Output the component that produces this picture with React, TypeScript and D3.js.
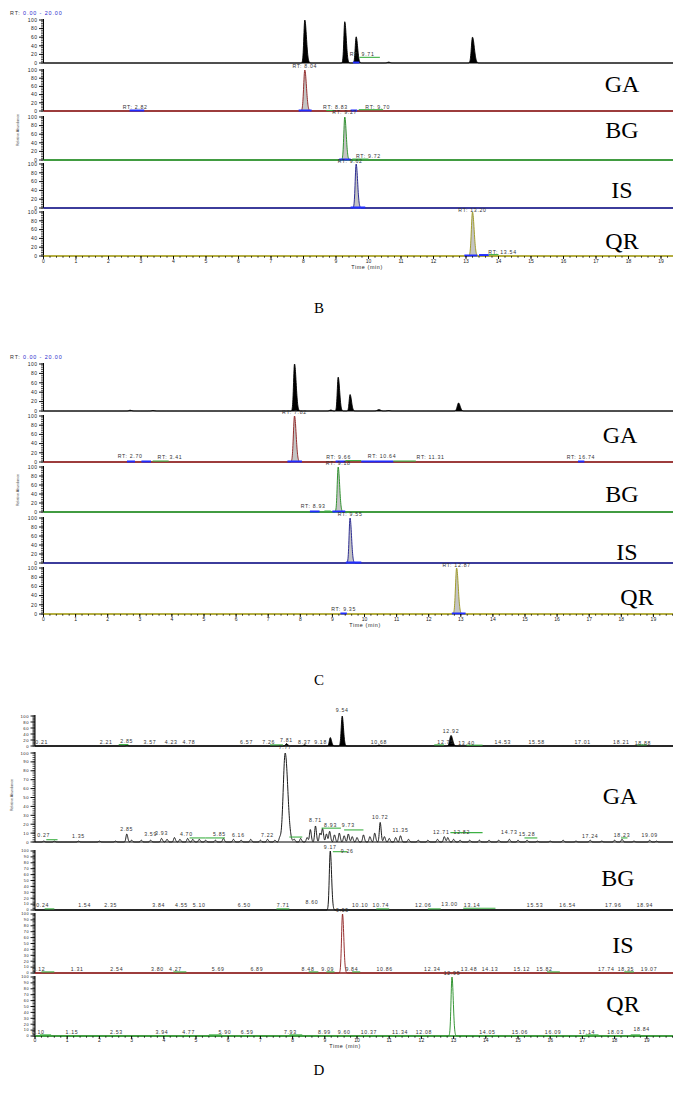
import React from 'react';
import * as d3 from 'd3';

// Peak: [retention time (min), height (% rel. abundance), sigma left, sigma right]
type Peak = [number, number, number, number];
// Label: [retention time, level (% of panel), x shift px]
type Label = [number, number, number?];
// Segment: [rt start, rt end, level (%), colour]
type Seg = [number, number, number, string];

const TIME_TICKS = [0, 1, 2, 3, 4, 5, 6, 7, 8, 9, 10, 11, 12, 13, 14, 15, 16, 17, 18, 19];
const PCT_TICKS_20 = [0, 20, 40, 60, 80, 100];
const PCT_TICKS_10 = [0, 10, 20, 30, 40, 50, 60, 70, 80, 90, 100];
const ANALYTES = ['GA', 'BG', 'IS', 'QR'];

const BLUE = '#1f2cff';
const GREEN = '#3cb043';

// ---------- B: standard solution ----------
const B_TIC: Peak[] = [[8.04, 100, 0.03, 0.05], [9.27, 96, 0.028, 0.045], [9.62, 61, 0.028, 0.045], [10.62, 2, 0.04, 0.04], [13.2, 60, 0.035, 0.055]];
const B_GA: Peak[] = [[8.04, 100, 0.035, 0.05]];
const B_BG: Peak[] = [[9.27, 100, 0.03, 0.045]];
const B_IS: Peak[] = [[9.62, 100, 0.03, 0.045]];
const B_QR: Peak[] = [[13.2, 100, 0.035, 0.05]];

const B_TIC_LABELS: Label[] = [[9.71, 17, 3]];
const B_GA_LABELS: Label[] = [[8.04, 106], [2.82, 6], [8.83, 6, 5], [9.7, 6, 19]];
const B_BG_LABELS: Label[] = [[9.27, 106], [9.72, 5, 9]];
const B_IS_LABELS: Label[] = [[9.62, 103, -6]];
const B_QR_LABELS: Label[] = [[13.2, 101], [13.54, 5, 19]];

const B_TIC_SEGS: Seg[] = [[9.52, 9.72, 0, BLUE], [9.72, 10.35, 12, GREEN]];
const B_GA_SEGS: Seg[] = [[2.65, 3.1, 0, BLUE], [7.85, 8.25, 0, BLUE], [8.7, 8.95, 0, GREEN], [9.45, 9.65, 0, BLUE], [9.7, 10.45, 2, GREEN]];
const B_BG_SEGS: Seg[] = [[9.1, 9.45, 0, BLUE], [9.5, 10.0, 1, GREEN]];
const B_IS_SEGS: Seg[] = [[9.45, 9.9, 0, BLUE]];
const B_QR_SEGS: Seg[] = [[12.95, 13.35, 0, BLUE], [13.4, 13.7, 1, BLUE], [13.7, 14.0, 2, GREEN]];

// ---------- C: spiked sample ----------
const C_TIC: Peak[] = [[2.7, 1.5, 0.04, 0.05], [3.41, 1, 0.04, 0.05], [7.82, 100, 0.03, 0.05], [8.95, 2, 0.04, 0.04], [9.18, 72, 0.028, 0.045], [9.55, 35, 0.028, 0.045], [10.45, 3, 0.05, 0.05], [10.75, 1, 0.05, 0.05], [12.93, 17, 0.04, 0.05]];
const C_GA: Peak[] = [[7.82, 100, 0.035, 0.05]];
const C_BG: Peak[] = [[9.18, 100, 0.03, 0.045]];
const C_IS: Peak[] = [[9.55, 100, 0.03, 0.045]];
const C_QR: Peak[] = [[12.87, 100, 0.035, 0.05]];

const C_GA_LABELS: Label[] = [[7.82, 104], [2.7, 9], [3.41, 7, 17], [9.66, 7, -15], [10.64, 8, -3], [11.31, 7, 24], [16.74, 7]];
const C_BG_LABELS: Label[] = [[9.18, 104], [8.93, 8, -17]];
const C_IS_LABELS: Label[] = [[9.55, 105]];
const C_QR_LABELS: Label[] = [[12.87, 102], [9.35, 6]];

const C_GA_SEGS: Seg[] = [[2.6, 2.85, 0, BLUE], [3.05, 3.35, 0, BLUE], [3.4, 3.9, 1, GREEN], [7.6, 8.05, 0, BLUE], [9.1, 9.4, 0, BLUE], [9.4, 9.9, 2, GREEN], [9.9, 10.3, 0, BLUE], [10.3, 10.9, 0, BLUE], [10.9, 11.6, 1, GREEN], [16.65, 16.85, 0, BLUE]];
const C_BG_SEGS: Seg[] = [[8.3, 8.6, 0, BLUE], [8.75, 8.95, 1, GREEN], [9.0, 9.4, 0, BLUE]];
const C_IS_SEGS: Seg[] = [[9.42, 9.9, 0, BLUE]];
const C_QR_SEGS: Seg[] = [[9.25, 9.45, 0, BLUE], [12.72, 13.15, 0, BLUE]];

// ---------- D: plasma sample ----------
const D_TIC: Peak[] = [[2.85, 2, 0.03, 0.04], [7.81, 8, 0.03, 0.04], [8.37, 4, 0.03, 0.04], [9.17, 28, 0.03, 0.04], [9.54, 100, 0.03, 0.04], [10.68, 3, 0.04, 0.05], [12.92, 35, 0.04, 0.05]];
const D_GA_MAIN: Peak[] = [[7.77, 100, 0.06, 0.08]];
// small chromatographic signals along the GA channel: [rt, height]
const D_GA_NOISE: [number, number][] = [
  [0.27, 1], [0.6, 1], [1.35, 1], [2.0, 1], [2.5, 1], [2.85, 9], [3.0, 2], [3.3, 2], [3.59, 2], [3.93, 4],
  [4.1, 3], [4.33, 5], [4.5, 3], [4.74, 4], [4.9, 3], [5.1, 3], [5.3, 2], [5.6, 2], [5.85, 4], [6.16, 3],
  [6.4, 2], [6.7, 3], [7.0, 2], [7.22, 3], [7.45, 2], [7.6, 4], [8.05, 3], [8.25, 4], [8.45, 5], [8.55, 14],
  [8.71, 18], [8.85, 10], [8.93, 15], [9.05, 9], [9.15, 12], [9.3, 8], [9.45, 10], [9.6, 7], [9.73, 9], [9.85, 6],
  [10.0, 5], [10.2, 8], [10.4, 6], [10.55, 10], [10.72, 22], [10.85, 6], [11.0, 4], [11.2, 5], [11.35, 7], [11.6, 3],
  [11.9, 2], [12.2, 2], [12.5, 3], [12.71, 6], [12.82, 5], [13.0, 3], [13.2, 2], [13.5, 2], [13.8, 2], [14.1, 2],
  [14.4, 2], [14.73, 3], [15.0, 2], [15.28, 2], [15.6, 1], [16.0, 1], [16.4, 2], [16.8, 1], [17.24, 2], [17.6, 1],
  [18.0, 2], [18.23, 3], [18.6, 1], [19.09, 2], [19.3, 1],
];
const D_BG: Peak[] = [[9.17, 100, 0.03, 0.04]];
const D_IS: Peak[] = [[9.55, 100, 0.03, 0.04]];
const D_QR: Peak[] = [[12.95, 100, 0.03, 0.04]];

const D_TIC_LABELS: Label[] = [[0.21, 7], [2.21, 7], [2.85, 9], [3.57, 7], [4.23, 7], [4.78, 7], [6.57, 7], [7.26, 7], [7.81, 12], [8.37, 7], [9.18, 7, -10], [9.54, 113], [10.68, 7], [12.75, 7], [12.92, 42], [13.4, 5], [14.53, 7], [15.58, 7], [17.01, 7], [18.21, 7], [18.88, 5]];
const D_GA_LABELS: Label[] = [[0.27, 6], [1.35, 5], [2.85, 12], [3.59, 7], [3.93, 8], [4.7, 7], [5.85, 7, -4], [6.16, 6, 5], [7.22, 6], [7.77, 104], [8.71, 22], [8.93, 17, 8], [9.73, 17], [10.72, 26], [11.35, 11], [12.71, 9, -3], [12.82, 9, 14], [14.73, 9], [15.28, 7], [17.24, 5], [18.23, 6], [19.09, 6]];
const D_BG_LABELS: Label[] = [[0.24, 5], [1.54, 5], [2.35, 5], [3.84, 5], [4.55, 5], [5.1, 5], [6.5, 5], [7.71, 5], [8.6, 10], [9.17, 104], [9.26, 97, 14], [10.1, 5], [10.74, 5], [12.06, 5], [13.0, 6, -4], [13.14, 5, 14], [15.53, 5], [16.54, 5], [17.96, 5], [18.94, 5]];
const D_IS_LABELS: Label[] = [[0.12, 4], [1.31, 4], [2.54, 4], [3.8, 4], [4.27, 4, 3], [5.69, 4], [6.89, 4], [8.48, 4], [9.09, 4], [9.55, 103], [9.84, 4], [10.86, 4], [12.34, 4], [13.48, 4], [14.13, 4], [15.12, 4], [15.82, 4], [17.74, 4], [18.35, 4], [19.07, 4]];
const D_QR_LABELS: Label[] = [[0.1, 4], [1.15, 4], [2.53, 4], [3.94, 4], [4.77, 4], [5.9, 4], [6.59, 4], [7.93, 4], [8.99, 4], [9.6, 4], [10.37, 4], [11.34, 4], [12.08, 4], [12.95, 103], [14.05, 4], [15.06, 4], [16.09, 4], [17.14, 4], [18.03, 4], [18.84, 9]];

const D_TIC_SEGS: Seg[] = [[2.6, 2.9, 3, GREEN], [7.3, 7.7, 2, GREEN], [12.4, 12.7, 2, GREEN], [13.4, 13.9, 1, GREEN], [18.7, 19.0, 2, GREEN]];
const D_GA_SEGS: Seg[] = [[0.35, 0.7, 2, GREEN], [4.8, 5.3, 4, GREEN], [5.3, 5.9, 4, GREEN], [7.9, 8.3, 5, GREEN], [8.9, 9.5, 15, GREEN], [9.6, 10.2, 13, GREEN], [12.9, 13.9, 10, GREEN], [15.2, 15.6, 4, GREEN], [18.2, 18.4, 4, GREEN]];
const D_BG_SEGS: Seg[] = [[0.3, 0.6, 1, GREEN], [7.5, 7.9, 1, GREEN], [9.25, 9.7, 98, GREEN], [10.6, 11.0, 1, GREEN], [12.2, 12.6, 1, GREEN], [13.3, 14.3, 2, GREEN]];
const D_IS_SEGS: Seg[] = [[0.2, 0.6, 1, GREEN], [4.3, 4.7, 1, GREEN], [8.5, 8.8, 1, GREEN], [9.05, 9.3, 1, GREEN], [9.85, 10.1, 1, GREEN], [15.9, 16.3, 1, GREEN], [18.3, 18.6, 1, GREEN]];
const D_QR_SEGS: Seg[] = [[0.15, 0.5, 1, GREEN], [5.4, 5.8, 1, GREEN], [7.9, 8.3, 1, GREEN], [17.1, 17.5, 1, GREEN], [18.5, 18.8, 1, GREEN]];

// ---------- drawing ----------
const SANS = 'Liberation Sans, Arial, sans-serif';
const SERIF = 'Liberation Serif, Times New Roman, serif';

interface RowSpec {
  top: number;
  bottom: number;
  peaks: Peak[];
  stroke: string;
  fill: string;
  base: string;
  baseWidth: number;
  ticks: number[];
  labels: Label[];
  segs: Seg[];
  prefix: string;
  tickFont: number;
}

interface FigSpec {
  x0: number;
  ppm: number;
  header?: number;
  rows: RowSpec[];
  tickLabelY: number;
  timeLabel: [number, number];
  caption: [string, number, number];
  names: [number, number][];
  yTitle: [number, number];
}

function signal(peaks: Peak[], t: number): number {
  let v = 0;
  for (const [rt, h, sl, sr] of peaks) {
    const s = t < rt ? sl : sr;
    const z = (t - rt) / s;
    if (Math.abs(z) < 6) v += h * Math.exp(-0.5 * z * z);
  }
  return Math.min(v, 100);
}

const SAMPLE_T = d3.range(0, 20.0001, 0.005);

function Row({ spec, x, showAxis }: { spec: RowSpec; x: d3.ScaleLinear<number, number>; showAxis: boolean }) {
  const y = d3.scaleLinear().domain([0, 100]).range([spec.bottom, spec.top]);
  const pts: [number, number][] = SAMPLE_T.map((t) => [t, signal(spec.peaks, t)]);
  const line = d3.line<[number, number]>().x((d) => x(d[0])).y((d) => y(d[1]));
  const area = d3.area<[number, number]>().x((d) => x(d[0])).y0(y(0)).y1((d) => y(d[1]));
  const minor = d3.range(0, 100.001, spec.ticks[1] - spec.ticks[0] >= 20 ? 4 : 2.5);
  const x0 = x(0);
  const xMinor = d3.range(0, 20.0001, 0.2);
  return (
    <g>
      {/* y axis */}
      <line x1={x0} x2={x0} y1={spec.top - 1} y2={spec.bottom} stroke="#000" strokeWidth={1} />
      {minor.map((v) => (
        <line key={'m' + v} x1={x0 - 2.5} x2={x0} y1={y(v)} y2={y(v)} stroke="#000" strokeWidth={0.7} />
      ))}
      {spec.ticks.map((v) => (
        <g key={'t' + v}>
          <line x1={x0 - 4.5} x2={x0} y1={y(v)} y2={y(v)} stroke="#000" strokeWidth={0.9} />
          <text x={x0 - 6} y={y(v) + spec.tickFont * 0.36} fontSize={spec.tickFont} fontFamily={SANS} textAnchor="end" letterSpacing={0.5} fill="#222">
            {v}
          </text>
        </g>
      ))}
      {/* trace */}
      {spec.fill !== 'none' && <path d={area(pts) ?? ''} fill={spec.fill} stroke="none" />}
      <path d={line(pts) ?? ''} fill="none" stroke={spec.stroke} strokeWidth={0.9} />
      <line x1={x0} x2={x(20)} y1={y(0)} y2={y(0)} stroke={spec.base} strokeWidth={spec.baseWidth} />
      {/* integration marks */}
      {spec.segs.map(([a, b, lv, c], i) => (
        <line key={'s' + i} x1={x(a)} x2={x(b)} y1={y(lv) - 0.5} y2={y(lv) - 0.5} stroke={c} strokeWidth={c === BLUE ? 2 : 1.1} />
      ))}
      {/* peak labels */}
      {spec.labels.map(([rt, lv, dx], i) => (
        <text key={'l' + i} x={x(rt) + (dx ?? 0)} y={y(lv)} fontSize={5.2} fontFamily={SANS} textAnchor="middle" letterSpacing={0.7} fill="#333">
          {spec.prefix + rt.toFixed(2)}
        </text>
      ))}
      {showAxis && (
        <g>
          {xMinor.map((t) => (
            <line key={'xm' + t} x1={x(t)} x2={x(t)} y1={spec.bottom} y2={spec.bottom + 1.8} stroke="#000" strokeWidth={0.7} />
          ))}
          {TIME_TICKS.map((t) => (
            <line key={'xt' + t} x1={x(t)} x2={x(t)} y1={spec.bottom} y2={spec.bottom + 3} stroke="#000" strokeWidth={0.9} />
          ))}
        </g>
      )}
    </g>
  );
}

function Figure({ spec }: { spec: FigSpec }) {
  const x = d3.scaleLinear().domain([0, 20]).range([spec.x0, spec.x0 + 20 * spec.ppm]);
  const last = spec.rows.length - 1;
  return (
    <g>
      {spec.header !== undefined && (
        <text x={10} y={spec.header} fontSize={5.4} fontFamily={SANS} letterSpacing={0.9} fill="#333">
          RT: <tspan fill="#2a2acc">0.00 - 20.00</tspan>
        </text>
      )}
      {spec.rows.map((r, i) => (
        <Row key={i} spec={r} x={x} showAxis={i === last} />
      ))}
      {TIME_TICKS.map((t) => (
        <text key={'xl' + t} x={x(t)} y={spec.tickLabelY} fontSize={5} fontFamily={SANS} textAnchor="middle" fill="#222">
          {t}
        </text>
      ))}
      <text x={spec.timeLabel[0]} y={spec.timeLabel[1]} fontSize={5.4} fontFamily={SANS} textAnchor="middle" letterSpacing={0.6} fill="#222">
        Time (min)
      </text>
      <text
        transform={`translate(${spec.yTitle[0]},${spec.yTitle[1]}) rotate(-90)`}
        fontSize={3.6}
        fontFamily={SANS}
        textAnchor="middle"
        fill="#333"
      >
        Relative Abundance
      </text>
      {spec.names.map(([nx, ny], i) => (
        <text key={'n' + i} x={nx} y={ny} fontSize={24} fontFamily={SERIF} textAnchor="middle" fill="#000">
          {ANALYTES[i]}
        </text>
      ))}
      <text x={spec.caption[1]} y={spec.caption[2]} fontSize={15} fontFamily={SERIF} textAnchor="middle" fill="#000">
        {spec.caption[0]}
      </text>
    </g>
  );
}

const OLIVE = '#a8a020';

function row(top: number, bottom: number, peaks: Peak[], stroke: string, fill: string, base: string, baseWidth: number, ticks: number[], labels: Label[], segs: Seg[], prefix: string, tickFont = 5): RowSpec {
  return { top, bottom, peaks, stroke, fill, base, baseWidth, ticks, labels, segs, prefix, tickFont };
}

const FIG_B: FigSpec = {
  x0: 43.5,
  ppm: 32.5,
  header: 15,
  rows: [
    row(20, 63, B_TIC, '#000', '#000', '#000', 1.2, PCT_TICKS_20, B_TIC_LABELS, B_TIC_SEGS, 'RT: '),
    row(70, 111, B_GA, '#8b1a1a', '#c4c4c4', '#8b1a1a', 1.6, PCT_TICKS_20, B_GA_LABELS, B_GA_SEGS, 'RT: '),
    row(117, 160, B_BG, '#1f8a1f', '#c4c4c4', '#1f8a1f', 1.6, PCT_TICKS_20, B_BG_LABELS, B_BG_SEGS, 'RT: '),
    row(164, 208, B_IS, '#1a1a8a', '#c4c4c4', '#1a1a8a', 1.6, PCT_TICKS_20, B_IS_LABELS, B_IS_SEGS, 'RT: '),
    row(212, 256, B_QR, '#9a9418', '#c4c4c4', OLIVE, 1.6, PCT_TICKS_20, B_QR_LABELS, B_QR_SEGS, 'RT: '),
  ],
  tickLabelY: 263,
  timeLabel: [367, 269],
  caption: ['B', 319, 313],
  names: [[622, 92], [622, 138], [622, 198], [622, 249]],
  yTitle: [19, 130],
};

const FIG_C: FigSpec = {
  x0: 43.5,
  ppm: 32.1,
  header: 359,
  rows: [
    row(364, 411, C_TIC, '#000', '#000', '#000', 1.2, PCT_TICKS_20, [], [], 'RT: '),
    row(416, 462, C_GA, '#8b1a1a', '#c4c4c4', '#8b1a1a', 1.6, PCT_TICKS_20, C_GA_LABELS, C_GA_SEGS, 'RT: '),
    row(467, 512, C_BG, '#1f8a1f', '#c4c4c4', '#1f8a1f', 1.6, PCT_TICKS_20, C_BG_LABELS, C_BG_SEGS, 'RT: '),
    row(518, 563, C_IS, '#1a1a8a', '#c4c4c4', '#1a1a8a', 1.6, PCT_TICKS_20, C_IS_LABELS, C_IS_SEGS, 'RT: '),
    row(568, 614, C_QR, '#9a9418', '#c4c4c4', OLIVE, 1.6, PCT_TICKS_20, C_QR_LABELS, C_QR_SEGS, 'RT: '),
  ],
  tickLabelY: 621,
  timeLabel: [365, 627],
  caption: ['C', 319, 685],
  names: [[620, 443], [622, 502], [627, 560], [637, 605]],
  yTitle: [19, 490],
};

const FIG_D: FigSpec = {
  x0: 35,
  ppm: 32.2,
  rows: [
    row(716, 746, D_TIC, '#000', '#000', '#000', 1.5, PCT_TICKS_20, D_TIC_LABELS, D_TIC_SEGS, '', 4.2),
    row(753, 842, [...D_GA_MAIN, ...D_GA_NOISE.map(([rt, h]): Peak => [rt, h, 0.025, 0.03])], '#000', 'none', '#000', 1.2, PCT_TICKS_10, D_GA_LABELS, D_GA_SEGS, '', 4.2),
    row(851, 910, D_BG, '#000', 'none', '#000', 1.5, PCT_TICKS_10, D_BG_LABELS, D_BG_SEGS, '', 3.8),
    row(914, 973, D_IS, '#8b1a1a', 'none', '#8b1a1a', 1.5, PCT_TICKS_10, D_IS_LABELS, D_IS_SEGS, '', 3.8),
    row(977, 1036, D_QR, '#1f8a1f', 'none', '#1f8a1f', 1.5, PCT_TICKS_10, D_QR_LABELS, D_QR_SEGS, '', 3.8),
  ],
  tickLabelY: 1042,
  timeLabel: [345, 1048],
  caption: ['D', 319, 1075],
  names: [[620, 804], [618, 886], [623, 953], [623, 1012]],
  yTitle: [13, 795],
};

export default function App() {
  return (
    <div style={{ position: 'absolute', left: 0, top: 0, width: 673, height: 1099, background: '#fff', overflow: 'hidden' }}>
      <svg width={673} height={1099} viewBox="0 0 673 1099" style={{ display: 'block' }}>
        <rect width={673} height={1099} fill="#fff" />
        <Figure spec={FIG_B} />
        <Figure spec={FIG_C} />
        <Figure spec={FIG_D} />
      </svg>
    </div>
  );
}
